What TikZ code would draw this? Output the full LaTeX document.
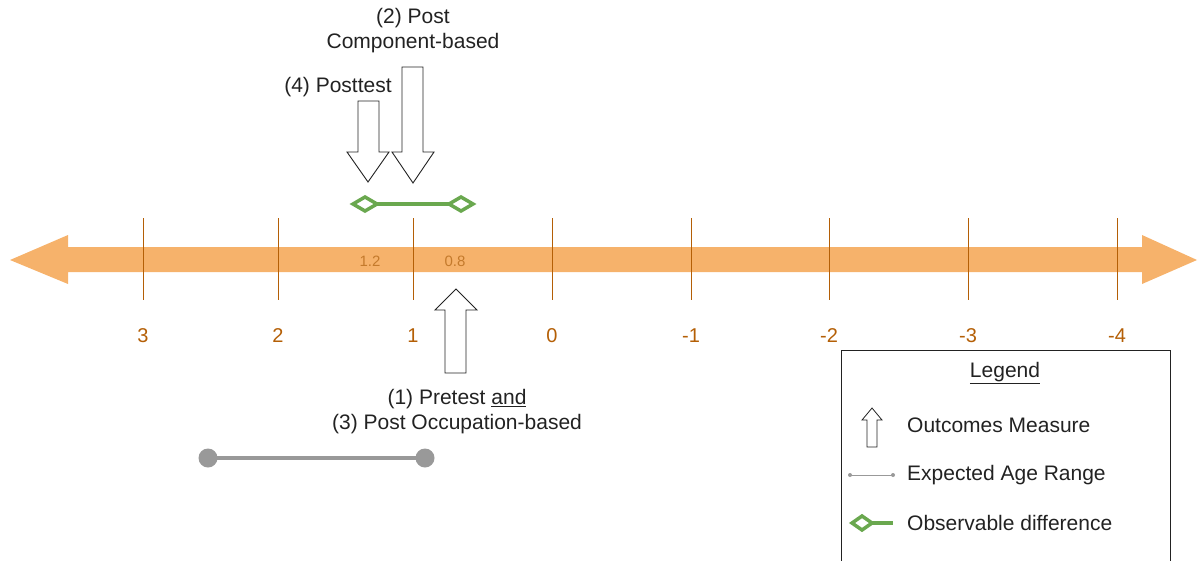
\documentclass[tikz,border=0pt]{standalone}
\usepackage{fontspec}
\setmainfont{Liberation Sans}
\definecolor{axisfill}{HTML}{F6B26B}
\definecolor{axisdark}{HTML}{B45F06}
\definecolor{axismid}{HTML}{C47A2C}
\definecolor{diffgreen}{HTML}{6AA84F}
\definecolor{rangegray}{HTML}{999999}
\definecolor{ink}{HTML}{222222}
\tikzset{
  blockarrow/.style={draw=ink, line width=0.9pt, fill=white, line join=miter},
  ticktxt/.style={text=axisdark, font=\fontsize{20}{22}\selectfont, inner sep=0pt},
  smalltxt/.style={text=axismid, font=\fontsize{15}{17}\selectfont, inner sep=0pt},
  lbl/.style={text=ink, font=\fontsize{21}{25}\selectfont, inner sep=0pt, align=center},
  legtxt/.style={text=ink, font=\fontsize{21}{25}\selectfont, inner sep=0pt, anchor=west},
  tickline/.style={draw=axisdark, line width=0.9pt},
  greenline/.style={draw=diffgreen, line width=4pt},
  diamondmark/.style={draw=diffgreen, line width=3.5pt, fill=white, line join=miter},
}
\begin{document}
\begin{tikzpicture}[x=1pt,y=-1pt]
\useasboundingbox (0,0) rectangle (1198,560);
% main double arrow
\fill[axisfill] (10,260) -- (68,235) -- (68,247) -- (1142,247) -- (1142,235) -- (1197,260)
  -- (1142,284) -- (1142,272) -- (68,272) -- (68,284) -- cycle;
% ticks and labels
\foreach \x/\t [count=\i] in {143/3,278/2,413/1,552/0,691/-1,829/-2,968/-3,1117/-4}{
  \draw[tickline] (\x,218) coordinate (tt\i) -- (\x,300) coordinate (tb\i);
  \node[ticktxt] (tl\i) at (\x,336) {\t};
}
\node[smalltxt] (v12) at (370,261) {1.2};
\node[smalltxt] (v08) at (455,261) {0.8};
% observable difference
\draw[greenline] (365,204) -- (461,204);
\draw[diamondmark] (353,204) -- (365,197) -- (377,204) -- (365,211) -- cycle;
\draw[diamondmark] (449,204) -- (461,197) -- (473,204) -- (461,211) -- cycle;
% expected age range
\draw[rangegray, line width=3.5pt] (208,458) -- (425,458);
\fill[rangegray] (208,458) circle (9.5);
\fill[rangegray] (425,458) circle (9.5);
% down arrows
\draw[blockarrow] (358,101) -- (379,101) -- (379,152) -- (389,152) -- (368,182) -- (347,152) -- (358,152) -- cycle;
\draw[blockarrow] (402,67) -- (423,67) -- (423,152) -- (434,152) -- (413,183) -- (392,152) -- (402,152) -- cycle;
% up arrow
\draw[blockarrow] (445,373) -- (466,373) -- (466,310) -- (477,310) -- (456,289) -- (435,310) -- (445,310) -- cycle;
% labels
\node[lbl] (post2) at (413,30.5) {(2) Post\\Component-based};
\node[lbl] (post4) at (338,87) {(4) Posttest};
\node[lbl] (pre1) at (457,411.5) {(1) Pretest \underline{and}\\(3) Post Occupation-based};
% legend
\draw[draw=ink, line width=0.9pt] (841,561) -- (841,350) -- (1170,350) -- (1170,561);
\node[lbl] (legend) at (1005,373) {\underline{Legend}};
\draw[blockarrow, line width=0.8pt] (867,447) -- (877,447) -- (877,420) -- (882,420) -- (872,408) -- (862,420) -- (867,420) -- cycle;
\node[legtxt] (lg1) at (907,425) {Outcomes Measure};
\draw[rangegray, line width=1pt] (850,475) -- (893,475);
\fill[rangegray] (850,475) circle (2);
\fill[rangegray] (893,475) circle (2);
\node[legtxt] (lg2) at (907,475) {Expected Age Range};
\draw[greenline] (872,523) -- (893,523);
\draw[diamondmark] (852,523) -- (862,516) -- (872,523) -- (862,530) -- cycle;
\node[legtxt] (lg3) at (907,523) {Observable difference};
\end{tikzpicture}
\end{document}
